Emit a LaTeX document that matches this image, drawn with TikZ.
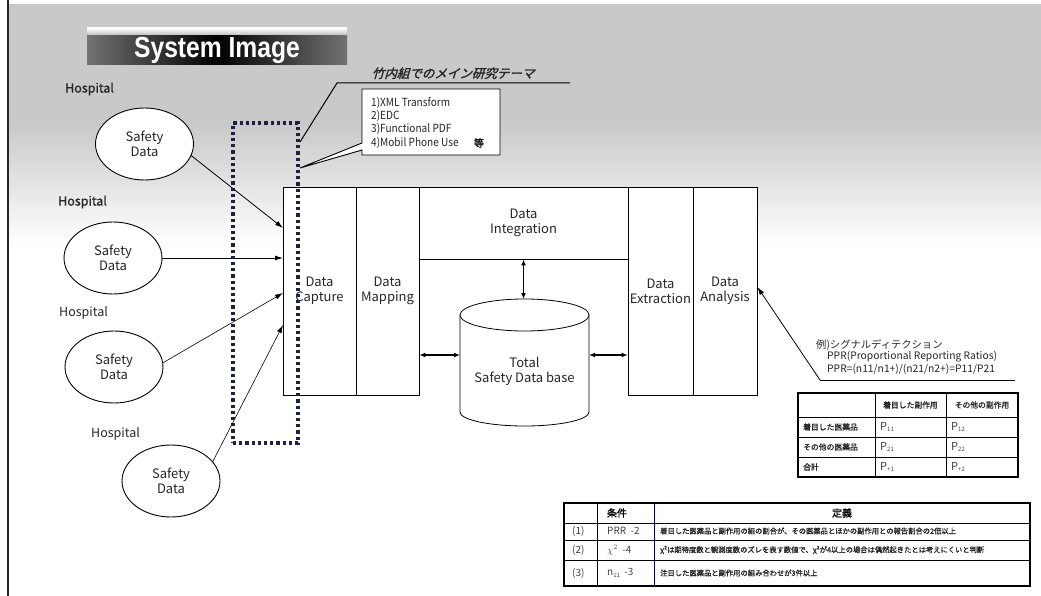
\documentclass[tikz,border=0pt]{standalone}
\usepackage{fontspec}
\usetikzlibrary{shapes.geometric,arrows.meta,calc}
\setmainfont{Noto Sans CJK JP}
\newfontfamily\gf{Noto Sans CJK JP}
\newfontfamily\gfn[FakeStretch=0.9]{Noto Sans CJK JP}
\newfontfamily\gfb[FakeBold=1.2]{Noto Sans CJK JP}
\newfontfamily\jpi[FakeSlant=0.3,FakeBold=1.6]{Noto Sans CJK JP}
\newfontfamily\tit[FakeStretch=0.85]{Liberation Sans}
\newcommand\Psub[1]{P\raisebox{-1.5pt}{\fontsize{6}{6}\selectfont #1}}
\definecolor{dotc}{RGB}{30,34,66}
\tikzset{
  sdata/.style={ellipse, draw, fill=white, line width=0.9pt, minimum width=98pt, minimum height=72pt,
    inner sep=0pt, font=\gf\fontsize{13}{14.5}\selectfont, align=center, text=black!85},
  hosp/.style={font=\gfb\fontsize{12.5}{14}\selectfont, anchor=west, inner sep=0pt, text=black!85},
  hospr/.style={font=\gf\fontsize{12.5}{14}\selectfont, anchor=west, inner sep=0pt, text=black!85},
  blk/.style={draw, line width=0.8pt, minimum height=208pt, inner sep=0pt,
    font=\gf\fontsize{13}{15}\selectfont, align=center, fill=white, text=black!85},
  arr/.style={-{Latex[length=8pt,width=5pt]}, line width=0.8pt},
  darr/.style={{Latex[length=6pt,width=5pt]}-{Latex[length=6pt,width=5pt]}, line width=1.2pt},
  dotbox/.style={draw=dotc, line width=3.5pt, dash pattern=on 3.2pt off 3pt},
  small/.style={font=\gf\fontsize{10.3}{11}\selectfont, anchor=west, inner sep=0pt, text=black!85},
  tjp/.style={font=\gfb\fontsize{7.8}{9}\selectfont, inner sep=0pt, text=black!85},
  tp/.style={font=\gf\fontsize{11}{12}\selectfont, anchor=west, inner sep=0pt, text=black!75},
  def/.style={font=\gfb\fontsize{7.3}{8}\selectfont, anchor=west, inner sep=0pt, text=black!85},
}
\begin{document}
\begin{tikzpicture}[x=1pt,y=-1pt]
\useasboundingbox (0,0) rectangle (1041,596);
% background
\fill[gray!42] (8,4) rectangle (1041,125);
\shade[top color=gray!42, bottom color=white] (8,125) rectangle (1041,245);
\draw[line width=2pt, black!85] (8,0) -- (8,596);
% title
\shade[left color=black!55, right color=black!55, middle color=black] (87,34) rectangle (347,65);
\shade[top color=white, bottom color=black!25] (87,28) rectangle (347,35);
\node[font=\tit\bfseries\fontsize{29}{30}\selectfont, text=white, anchor=base, inner sep=0pt] (title) at (217,58) {System Image};
% hospitals
\node[hosp] (h1) at (65,89) {Hospital};
\node[hosp] (h2) at (58,202) {Hospital};
\node[hospr] (h3) at (59,313) {Hospital};
\node[hospr] (h4) at (91,434) {Hospital};
\node[sdata] (e1) at (144.5,144) {Safety\\Data};
\node[sdata] (e2) at (113,258) {Safety\\Data};
\node[sdata] (e3) at (114,367) {Safety\\Data};
\node[sdata] (e4) at (171,481) {Safety\\Data};
% main blocks
\node[blk, minimum width=73pt] (cap) at (319.5,291) {Data\\Capture};
\node[blk, minimum width=63pt] (map) at (387.5,291) {Data\\Mapping};
\node[blk, minimum width=209pt, minimum height=72pt] (int) at (523.5,223) {Data\\Integration};
\node[blk, minimum width=65pt] (ext) at (660.5,291) {Data\\Extraction};
\node[blk, minimum width=64pt] (ana) at (725,291) {Data\\Analysis};
% database cylinder
\draw[line width=0.8pt, fill=white] (460,315) -- (460,412) arc[start angle=180, end angle=0, x radius=64.5, y radius=14] -- (589,315);
\draw[line width=0.8pt, fill=white] (524.5,315) ellipse [x radius=64.5, y radius=16];
\node[font=\gf\fontsize{13}{15}\selectfont, align=center, text=black!85, inner sep=0pt] (db) at (524.5,371) {Total\\Safety Data base};
\coordinate (dbtop) at (523.5,299);
\coordinate (dbw) at (460,355);
\coordinate (dbe) at (589,355);
\draw[darr, line width=1.8pt] (int.south) -- (dbtop);
\draw[darr] (map.east |- dbw) -- (dbw);
\draw[darr] (dbe) -- (ext.west |- dbe);
% inputs
\coordinate (c1) at (283,228);
\coordinate (c2) at (283,258);
\coordinate (c3) at (283,293);
\coordinate (c4) at (283,325);
\draw[arr] (e1.-14) -- (c1);
\draw[arr] (e2.east) -- (c2);
\draw[arr, line width=0.6pt] (e3.5) -- (c3);
\draw[arr, line width=0.6pt] (e4.25) -- (c4);
% dotted box
\node[dotbox, minimum width=65pt, minimum height=320pt, inner sep=0pt] (dots) at (265.5,283) {};
% theme callout
\coordinate (p1) at (300,142);
\coordinate (u1) at (337,83);
\coordinate (u2) at (570,83);
\draw[line width=1pt] (p1) -- (u1) -- (u2);
\node[font=\jpi\fontsize{12.5}{14}\selectfont, anchor=base, inner sep=0pt, text=black!85] (theme) at (453,78) {竹内組でのメイン研究テーマ};
\coordinate (p2) at (300,168);
\draw[line width=0.9pt, fill=white] (362,89) -- (500,89) -- (500,155) -- (362,155) -- (362,150) -- (p2) -- (362,143) -- cycle;
\node[font=\gfn\fontsize{11.2}{13.3}\selectfont, anchor=north west, align=left, inner sep=0pt, text=black!85] (list) at (371,97) {1)XML Transform\\2)EDC\\3)Functional PDF\\4)Mobil Phone Use};
\node[font=\gfb\fontsize{10}{11}\selectfont, inner sep=0pt] (etc) at (479,143) {等};
% analysis callout
\coordinate (q1) at (820,380);
\coordinate (q2) at (1015,380);
\draw[arr] (q1) -- ($(ana.east)+(0,-4)$);
\draw[line width=0.9pt] (q1) -- (q2);
\node[small] (s1) at (816,345) {例)シグナルディテクション};
\node[small] (s2) at (827,357) {PPR(Proportional Reporting Ratios)};
\node[small] (s3) at (827,369) {PPR=(n11/n1+)/(n21/n2+)=P11/P21};
% table 1
\draw[line width=0.7pt] (875,393) -- (875,477) (946,393) -- (946,477)
  (798,417) -- (1018,417) (798,437) -- (1018,437) (798,457) -- (1018,457);
\draw[line width=1.6pt] (798,393) rectangle (1018,477);
\node[tjp] (a1) at (910.5,405) {着目した副作用};
\node[tjp] (a2) at (982,405) {その他の副作用};
\node[tjp, anchor=west] (b1) at (803,427) {着目した医薬品};
\node[tjp, anchor=west] (b2) at (803,447) {その他の医薬品};
\node[tjp, anchor=west] (b3) at (803,467) {合計};
\node[tp] (p11) at (880,427) {\Psub{11}};
\node[tp] (p12) at (951,427) {\Psub{12}};
\node[tp] (p21) at (880,447) {\Psub{21}};
\node[tp] (p22) at (951,447) {\Psub{22}};
\node[tp] (pp1) at (880,467) {\Psub{+1}};
\node[tp] (pp2) at (951,467) {\Psub{+2}};
% table 2
\draw[line width=0.7pt] (597,503) -- (597,586)
  (564,523) -- (1030,523) (564,540) -- (1030,540) (564,560) -- (1030,560);
\draw[line width=0.9pt, draw=blue!45!black] (654,503) -- (654,586);
\draw[line width=1.3pt] (564,503) rectangle (1030,586);
\node[font=\gfb\fontsize{10}{11}\selectfont, inner sep=0pt] (k1) at (617,513) {条件};
\node[font=\gfb\fontsize{10}{11}\selectfont, inner sep=0pt] (k2) at (842,513) {定義};
\node[tp, font=\gf\fontsize{10}{11}\selectfont] (r1) at (572,531) {(1)};
\node[tp, font=\gf\fontsize{10}{11}\selectfont] (r2) at (572,550) {(2)};
\node[tp, font=\gf\fontsize{10}{11}\selectfont] (r3) at (572,573) {(3)};
\node[tp, font=\gf\fontsize{10}{11}\selectfont] (c1t) at (607,531) {PRR \ -2};
\node[tp, font=\gf\fontsize{10}{11}\selectfont] (c2t) at (607,550) {$\chi^{2}$ \ -4};
\node[tp, font=\gf\fontsize{10}{11}\selectfont] (c3t) at (607,573) {n\raisebox{-1.5pt}{\fontsize{6}{6}\selectfont 11} \ -3};
\node[def] (d1) at (660,531) {着目した医薬品と副作用の組の割合が、その医薬品とほかの副作用との報告割合の2倍以上};
\node[def] (d2) at (660,550) {χ²は期待度数と観測度数のズレを表す数値で、χ²が4以上の場合は偶然起きたとは考えにくいと判断};
\node[def] (d3) at (660,573) {注目した医薬品と副作用の組み合わせが3件以上};
\end{tikzpicture}
\end{document}
